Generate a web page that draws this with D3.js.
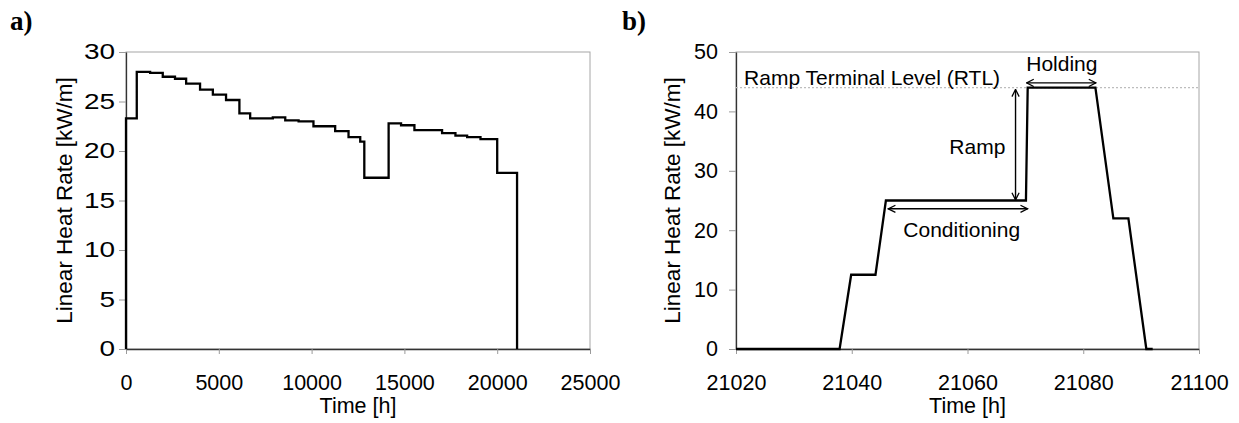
<!DOCTYPE html>
<html>
<head>
<meta charset="utf-8">
<script src="https://cdn.jsdelivr.net/npm/d3@7"></script>
<style>
body { margin: 0; background: #fff; }
text { font-family: "Liberation Sans", Arial, sans-serif; fill: #000; }
</style>
</head>
<body>
<svg id="fig" width="1239" height="423"></svg>
<script>
// panel a) - power history over the irradiation (step values)
var timeA = [0, 0, 580, 1300, 1980, 2640, 3240, 3990, 4680, 5390, 6110, 6690, 7910, 8580, 9300,
             10100, 11270, 11990, 12620, 12840, 14150, 14820, 15540, 17030, 17750, 18380, 19100, 20000, 21070];
var rateA = [0, 23.3, 28.0, 27.9, 27.5, 27.3, 26.8, 26.2, 25.7, 25.15, 23.8, 23.3, 23.4, 23.1, 23.0,
             22.5, 22.0, 21.4, 20.95, 17.3, 22.8, 22.6, 22.1, 21.8, 21.55, 21.4, 21.2, 17.8, 0];
var xTicksA = [0, 5000, 10000, 15000, 20000, 25000];
var yTicksA = [0, 5, 10, 15, 20, 25, 30];

// panel b) - ramp test
var timeB = [21020, 21037.9, 21039.9, 21044.1, 21045.9, 21070.1, 21070.4, 21082.1, 21085.2, 21087.8, 21090.9, 21092];
var rateB = [0, 0, 12.5, 12.5, 25, 25, 44, 44, 22, 22, 0, 0];
var xTicksB = [21020, 21040, 21060, 21080, 21100];
var yTicksB = [0, 10, 20, 30, 40, 50];
var rtlLevel = 44;

// double arrows in data units
var arrowsB = [
    {x1: 21046.3, y1: 23.6, x2: 21070.4, y2: 23.6},   // conditioning
    {x1: 21068.3, y1: 43.7, x2: 21068.3, y2: 25.1},   // ramp
    {x1: 21070.2, y1: 44.8, x2: 21082.2, y2: 44.8}    // holding
];
var labelsB = [
    {text: "Conditioning", x: 21059.0, y: 18.8},
    {text: "Ramp", x: 21061.7, y: 32.8},
    {text: "Holding", x: 21076.3, y: 46.85}
];

var svg = d3.select("#fig");

svg.append("defs").append("marker")
    .attr("id", "head")
    .attr("viewBox", "0 0 10 10")
    .attr("refX", 9).attr("refY", 5)
    .attr("markerWidth", 9).attr("markerHeight", 9)
    .attr("markerUnits", "userSpaceOnUse")
    .attr("orient", "auto-start-reverse")
    .append("path")
    .attr("d", "M1,1 L9,5 L1,9")
    .attr("fill", "none")
    .attr("stroke", "#000")
    .attr("stroke-width", 1.4);

// stretch text horizontally around its anchor
function stretch(sel, sx) {
    sel.attr("transform", function () {
        var t = d3.select(this), x = +t.attr("x") || 0, y = +t.attr("y") || 0;
        return "translate(" + x + "," + y + ") scale(" + sx + ",1) translate(" + (-x) + "," + (-y) + ")";
    });
}

function panel(o) {
    var x = d3.scaleLinear().domain(o.xDomain).range([o.left, o.right]),
        y = d3.scaleLinear().domain(o.yDomain).range([349, 52]);
    var g = svg.append("g");

    // plot frame (light grey top/right)
    g.append("rect")
        .attr("x", o.left).attr("y", 52)
        .attr("width", o.right - o.left).attr("height", 297)
        .attr("fill", "none").attr("stroke", "#a6a6a6").attr("stroke-width", 1);

    var ax = g.append("g").attr("transform", "translate(0,349)")
        .call(d3.axisBottom(x).tickValues(o.xTicks).tickSize(5).tickSizeOuter(0).tickPadding(21)
            .tickFormat(d3.format("d")));
    var ay = g.append("g").attr("transform", "translate(" + o.left + ",0)")
        .call(d3.axisLeft(y).tickValues(o.yTicks).tickSize(7).tickSizeOuter(0).tickPadding(o.yPad));
    [ax, ay].forEach(function (a) {
        a.select(".domain").attr("stroke", "#333").attr("stroke-width", 1.3);
        a.selectAll(".tick line").attr("stroke", "#9a9a9a");
        a.selectAll(".tick text").style("font-size", "21.5px");
    });
    if (o.yStretch) stretch(ay.selectAll(".tick text"), o.yStretch);

    g.append("text")
        .attr("x", (o.left + o.right) / 2).attr("y", 413)
        .attr("text-anchor", "middle").style("font-size", "21.5px")
        .text("Time [h]");
    g.append("text")
        .attr("transform", "translate(" + o.titleX + ",200.5) rotate(-90)")
        .attr("text-anchor", "middle").style("font-size", "22.5px")
        .text("Linear Heat Rate [kW/m]");
    g.append("text")
        .attr("x", o.tagX).attr("y", 30)
        .style("font-family", "'Liberation Serif', 'Times New Roman', serif")
        .style("font-weight", "bold").style("font-size", "27px")
        .text(o.tag);

    return {g: g, x: x, y: y};
}

// ---- a)
var pa = panel({xDomain: [0, 25000], yDomain: [0, 30], left: 126, right: 590,
    xTicks: xTicksA, yTicks: yTicksA, yPad: 4, yStretch: 1.3, titleX: 72, tagX: 10, tag: "a)"});

var lineA = d3.line()
    .x(function (d) { return pa.x(d[0]); })
    .y(function (d) { return pa.y(d[1]); })
    .curve(d3.curveStepAfter);
pa.g.append("path")
    .datum(d3.zip(timeA, rateA))
    .attr("d", lineA)
    .attr("fill", "none").attr("stroke", "#000").attr("stroke-width", 2.3);

// ---- b)
var pb = panel({xDomain: [21020, 21100], yDomain: [0, 50], left: 736, right: 1199,
    xTicks: xTicksB, yTicks: yTicksB, yPad: 11, titleX: 680, tagX: 622, tag: "b)"});

pb.g.append("line")
    .attr("x1", pb.x(21020)).attr("x2", pb.x(21100))
    .attr("y1", pb.y(rtlLevel)).attr("y2", pb.y(rtlLevel))
    .attr("stroke", "#bdbdbd").attr("stroke-width", 1.2).attr("stroke-dasharray", "2,2");
pb.g.append("text")
    .attr("x", pb.x(21021.4)).attr("y", pb.y(rtlLevel) - 3)
    .style("font-size", "21px")
    .text("Ramp Terminal Level (RTL)");

var lineB = d3.line()
    .x(function (d) { return pb.x(d[0]); })
    .y(function (d) { return pb.y(d[1]); });
pb.g.append("path")
    .datum(d3.zip(timeB, rateB))
    .attr("d", lineB)
    .attr("fill", "none").attr("stroke", "#000").attr("stroke-width", 2.3)
    .attr("stroke-linejoin", "miter");

pb.g.selectAll(".arr").data(arrowsB).enter().append("line")
    .attr("class", "arr")
    .attr("x1", function (d) { return pb.x(d.x1); })
    .attr("y1", function (d) { return pb.y(d.y1); })
    .attr("x2", function (d) { return pb.x(d.x2); })
    .attr("y2", function (d) { return pb.y(d.y2); })
    .attr("stroke", "#000").attr("stroke-width", 1.4)
    .attr("marker-start", "url(#head)").attr("marker-end", "url(#head)");

pb.g.selectAll(".lab").data(labelsB).enter().append("text")
    .attr("class", "lab")
    .attr("x", function (d) { return pb.x(d.x); })
    .attr("y", function (d) { return pb.y(d.y); })
    .attr("text-anchor", "middle").style("font-size", "21px")
    .text(function (d) { return d.text; });
</script>
</body>
</html>
